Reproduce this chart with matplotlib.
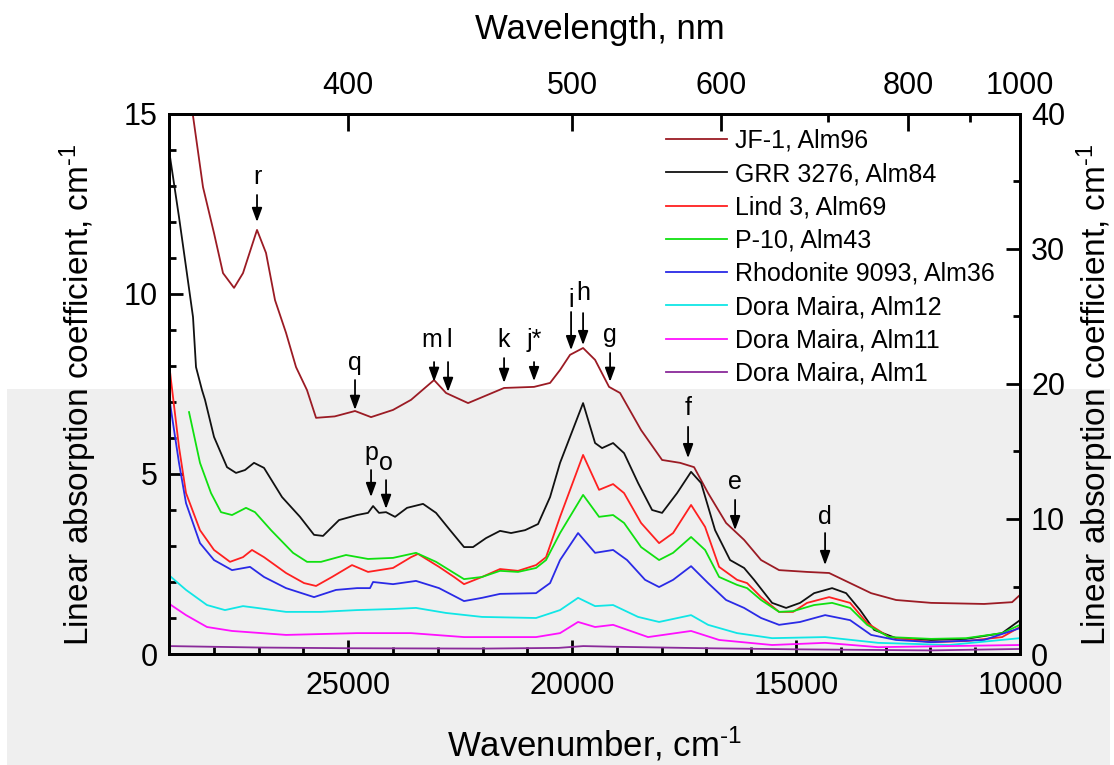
import matplotlib
matplotlib.use('Agg')
import matplotlib.pyplot as plt
from matplotlib.patches import Rectangle
from matplotlib.ticker import MultipleLocator, FixedLocator, NullFormatter

plt.rcParams['font.family'] = ['Liberation Sans', 'DejaVu Sans']
plt.rcParams['mathtext.fontset'] = 'custom'
plt.rcParams['mathtext.rm'] = 'Liberation Sans'
plt.rcParams['mathtext.it'] = 'Liberation Sans:italic'

# spectra: wavenumber (cm-1) and linear absorption coefficient (cm-1, left scale)
jf1_x = [28470, 28241, 27995, 27794, 27548, 27348, 27035, 26834, 26633, 26387, 26164,
         25919, 25717, 25300, 24847, 24489, 23998, 23596, 23082, 22814, 22323, 21519,
         20850, 20492, 20269, 20046, 19755, 19487, 19175, 18929, 18460, 17991, 17589,
         17277, 16964, 16562, 16160, 15781, 15379, 14754, 14262, 13793, 13324, 12766,
         11984, 10801, 10176, 10000]
jf1_y = [15.0, 12.97, 11.69, 10.58, 10.17, 10.58, 11.78, 11.14, 9.83, 8.92, 7.97,
         7.33, 6.56, 6.6, 6.75, 6.58, 6.78, 7.06, 7.61, 7.25, 6.97, 7.39,
         7.42, 7.53, 7.89, 8.31, 8.5, 8.17, 7.42, 7.25, 6.22, 5.39, 5.31,
         5.19, 4.47, 3.64, 3.17, 2.61, 2.33, 2.28, 2.25, 1.97, 1.69, 1.5,
         1.42, 1.39, 1.44, 1.64]

grr_x = [29000, 28777, 28620, 28464, 28397, 28263, 28196, 27995, 27705, 27504, 27303,
         27102, 26879, 26477, 26075, 25762, 25561, 25204, 24802, 24556, 24444, 24311,
         24154, 23953, 23685, 23328, 23038, 22725, 22413, 22212, 21921, 21609, 21363,
         21050, 20760, 20492, 20269, 19755, 19487, 19331, 19085, 18840, 18527, 18214,
         17991, 17656, 17344, 17120, 16808, 16473, 16160, 15937, 15535, 15222, 14910,
         14597, 14195, 13882, 13570, 13257, 12766, 11984, 11203, 10399, 10000]
grr_y = [14.0, 12.14, 10.75, 9.36, 7.97, 7.33, 7.06, 6.03, 5.19, 5.03, 5.11,
         5.31, 5.17, 4.36, 3.81, 3.31, 3.28, 3.72, 3.86, 3.92, 4.11, 3.92,
         3.94, 3.81, 4.06, 4.17, 3.92, 3.44, 2.97, 2.97, 3.22, 3.42, 3.36,
         3.44, 3.61, 4.36, 5.31, 6.97, 5.86, 5.72, 5.86, 5.58, 4.75, 4.0,
         3.92, 4.47, 5.06, 4.75, 3.44, 2.61, 2.39, 2.06, 1.42, 1.28, 1.42,
         1.69, 1.83, 1.69, 1.22, 0.67, 0.44, 0.39, 0.42, 0.58, 0.94]

lind_x = [29000, 28955, 28777, 28620, 28308, 27995, 27638, 27348, 27147, 26879, 26387,
          25985, 25717, 25360, 24914, 24556, 23998, 23596, 23440, 22971, 22636, 22413,
          22011, 21609, 21207, 20805, 20582, 20269, 19755, 19398, 19085, 18840, 18460,
          18058, 17745, 17344, 17031, 16718, 16317, 16093, 15781, 15379, 15066, 14754,
          14262, 13793, 13413, 12922, 11984, 11203, 10399, 10000]
lind_y = [8.1, 7.6, 5.75, 4.47, 3.44, 2.89, 2.56, 2.69, 2.89, 2.69, 2.25,
          1.97, 1.89, 2.14, 2.47, 2.28, 2.39, 2.69, 2.78, 2.42, 2.14, 1.94,
          2.14, 2.36, 2.31, 2.47, 2.69, 3.81, 5.53, 4.56, 4.72, 4.47, 3.64,
          3.08, 3.36, 4.14, 3.53, 2.42, 2.06, 1.97, 1.58, 1.17, 1.17, 1.42,
          1.58, 1.42, 0.86, 0.47, 0.33, 0.36, 0.47, 0.75]

p10_x = [28553, 28308, 28062, 27839, 27593, 27281, 27080, 26722, 26231, 25918, 25606,
         25048, 24556, 23998, 23485, 23038, 22636, 22413, 22011, 21609, 21207, 20805,
         20582, 20269, 19755, 19398, 19085, 18840, 18460, 18058, 17745, 17344, 17031,
         16718, 16317, 16093, 15781, 15379, 15066, 14597, 14195, 13793, 13413, 12922,
         11984, 11203, 10399, 10000]
p10_y = [6.72, 5.31, 4.47, 3.94, 3.86, 4.06, 3.94, 3.44, 2.81, 2.56, 2.56,
         2.75, 2.64, 2.67, 2.81, 2.56, 2.25, 2.08, 2.14, 2.31, 2.28, 2.39,
         2.61, 3.36, 4.42, 3.81, 3.86, 3.64, 2.97, 2.61, 2.81, 3.25, 2.89,
         2.14, 1.92, 1.83, 1.5, 1.17, 1.19, 1.36, 1.42, 1.28, 0.81, 0.47,
         0.42, 0.44, 0.58, 0.81]

rhod_x = [29000, 28955, 28777, 28620, 28308, 27995, 27593, 27191, 26879, 26387, 25762,
          25271, 24802, 24512, 24444, 23998, 23485, 22971, 22413, 22011, 21609, 20805,
          20492, 20269, 19867, 19487, 19085, 18773, 18371, 18058, 17745, 17344, 16964,
          16562, 16160, 15781, 15379, 14910, 14351, 13793, 13324, 12766, 11984, 10801,
          10000]
rhod_y = [7.2, 6.78, 5.31, 4.19, 3.08, 2.61, 2.33, 2.42, 2.14, 1.83, 1.58,
          1.78, 1.83, 1.83, 2.0, 1.94, 2.03, 1.83, 1.47, 1.56, 1.67, 1.69,
          1.97, 2.61, 3.36, 2.81, 2.89, 2.61, 2.06, 1.86, 2.06, 2.44, 1.97,
          1.5, 1.28, 1.0, 0.81, 0.89, 1.08, 0.94, 0.53, 0.39, 0.33, 0.39,
          0.72]

dm12_x = [29000, 28955, 28620, 28152, 27750, 27348, 27035, 26387, 25606, 24802, 23998,
          23485, 22814, 22011, 20805, 20269, 19867, 19487, 19085, 18527, 18058, 17344,
          16964, 16317, 15535, 14351, 13168, 11582, 10000]
dm12_y = [2.2, 2.14, 1.78, 1.36, 1.22, 1.33, 1.28, 1.17, 1.17, 1.22, 1.25,
          1.28, 1.14, 1.03, 1.0, 1.22, 1.56, 1.33, 1.36, 1.03, 0.89, 1.08,
          0.81, 0.58, 0.44, 0.47, 0.31, 0.25, 0.44]

dm11_x = [29000, 28955, 28620, 28152, 27593, 26387, 24802, 23596, 22413, 20805, 20269,
          19867, 19487, 19085, 18304, 17344, 16718, 15535, 14351, 13168, 10000]
dm11_y = [1.42, 1.36, 1.08, 0.75, 0.64, 0.53, 0.58, 0.58, 0.47, 0.47, 0.58,
          0.89, 0.75, 0.81, 0.47, 0.64, 0.39, 0.25, 0.31, 0.19, 0.25]

dm1_x = [29000, 27000, 25000, 22000, 20300, 19750, 19000, 17000, 15000, 12000, 10000]
dm1_y = [0.22, 0.18, 0.16, 0.15, 0.17, 0.22, 0.2, 0.16, 0.13, 0.1, 0.14]

labels = ['JF-1, Alm96', 'GRR 3276, Alm84', 'Lind 3, Alm69', 'P-10, Alm43',
          'Rhodonite 9093, Alm36', 'Dora Maira, Alm12', 'Dora Maira, Alm11',
          'Dora Maira, Alm1']
colors = ['#9b1b24', '#111111', '#ff2020', '#10e010', '#2a2ae6', '#10e6e6',
          '#ff10ff', '#8a2a9a']

# band markers: letter, wavenumber, label y, arrow tail y, arrow tip y
band_names = ['r', 'q', 'm', 'l', 'k', 'j*', 'i', 'h', 'g', 'f', 'e', 'd', 'p', 'o']
band_x = [27035, 24847, 23130, 22740, 21519, 20850, 20023, 19755, 19152, 17411,
          16361, 14352, 24489, 24154]
band_lab = [13.25, 8.08, 8.72, 8.72, 8.72, 8.72, 9.83, 10.03, 8.86, 6.83, 4.78,
            3.81, 5.58, 5.31]
band_tail = [12.75, 7.61, 8.11, 8.11, 8.22, 8.11, 9.5, 9.47, 8.36, 6.31, 4.28,
             3.36, 5.11, 4.83]
band_tip = [12.0, 6.78, 7.56, 7.28, 7.53, 7.58, 8.44, 8.58, 7.56, 5.44, 3.44,
            2.47, 4.36, 4.03]
band_arrow_x = [27035, 24847, 23082, 22770, 21519, 20850, 20023, 19755, 19152, 17411,
                16361, 14352, 24489, 24154]

top_nm = [400, 500, 600, 800, 1000]
top_nm_minor = [700, 900]

unit = 'cm$^{\u2010 1}$'

fig = plt.figure(figsize=(11.14, 7.65), dpi=100)
fig.patch.set_facecolor('white')
fig.add_artist(Rectangle((7 / 1114, 0), 1103 / 1114, (765 - 389) / 765,
                         transform=fig.transFigure, facecolor='#efefef',
                         edgecolor='none', zorder=-5))

ax = fig.add_axes([169 / 1114, 111 / 765, 851 / 1114, 540 / 765])
ax.set_facecolor('none')

series = [(jf1_x, jf1_y), (grr_x, grr_y), (lind_x, lind_y), (p10_x, p10_y),
          (rhod_x, rhod_y), (dm12_x, dm12_y), (dm11_x, dm11_y), (dm1_x, dm1_y)]
for (xs, ys), lab, c in zip(series, labels, colors):
    ax.plot(xs, ys, color=c, lw=1.3, label=lab)

ax.set_xlim(29000, 10000)
ax.set_ylim(0, 15)
ax.xaxis.set_major_locator(FixedLocator([25000, 20000, 15000, 10000]))
ax.xaxis.set_minor_locator(MultipleLocator(1000))
ax.yaxis.set_major_locator(MultipleLocator(5))
ax.yaxis.set_minor_locator(MultipleLocator(1))
ax.tick_params(which='both', direction='in', width=2, labelsize=22)
ax.tick_params(which='major', length=10)
ax.tick_params(which='minor', length=5)
ax.tick_params(axis='x', pad=12)
ax.tick_params(axis='y', pad=8)
for s in ax.spines.values():
    s.set_linewidth(2)

for name, bx, ax_x, ly, ty, tp in zip(band_names, band_x, band_arrow_x,
                                      band_lab, band_tail, band_tip):
    ax.annotate('', xy=(ax_x, tp), xytext=(ax_x, ty),
                arrowprops=dict(arrowstyle='-|>,head_length=0.6,head_width=0.22',
                                color='black', lw=1.3, shrinkA=0, shrinkB=0,
                                mutation_scale=14))
    ax.text(bx, ly, name, ha='center', va='center', fontsize=18)

ax.legend(loc='upper left', bbox_to_anchor=((666 - 169) / 851, (654 - 129) / 540),
          frameon=False, fontsize=18, handlelength=2.45, handletextpad=0.3,
          labelspacing=0.37, borderpad=0, borderaxespad=0)

# right axis, same data on a 0-40 scale
ax2 = ax.twinx()
ax2.set_ylim(0, 40)
ax2.yaxis.set_major_locator(MultipleLocator(10))
ax2.yaxis.set_minor_locator(MultipleLocator(5))
ax2.tick_params(which='both', direction='in', width=2, labelsize=22, pad=8)
ax2.tick_params(which='major', length=10)
ax2.tick_params(which='minor', length=5)
for s in ax2.spines.values():
    s.set_linewidth(2)

# top axis: wavelength in nm
ax3 = ax.twiny()
ax3.set_xlim(ax.get_xlim())
ax3.xaxis.set_major_locator(FixedLocator([1e7 / v for v in top_nm]))
ax3.set_xticklabels([str(v) for v in top_nm])
ax3.xaxis.set_minor_locator(FixedLocator([1e7 / v for v in top_nm_minor]))
ax3.xaxis.set_minor_formatter(NullFormatter())
ax3.tick_params(which='both', direction='in', width=2, labelsize=22, pad=9)
ax3.tick_params(which='major', length=12)
ax3.tick_params(which='minor', length=6)
for s in ax3.spines.values():
    s.set_linewidth(2)

fig.text(595 / 1114, 1 - 744 / 765, 'Wavenumber, ' + unit, ha='center', va='center',
         fontsize=25)
fig.text(600 / 1114, 1 - 30 / 765, 'Wavelength, nm', ha='center', va='center',
         fontsize=25)
fig.text(78 / 1114, 1 - 395 / 765, 'Linear absorption coefficient, ' + unit,
         ha='center', va='center', rotation=90, fontsize=24)
fig.text(1095 / 1114, 1 - 395 / 765, 'Linear absorption coefficient, ' + unit,
         ha='center', va='center', rotation=90, fontsize=24)

fig.savefig('out.png', dpi=100)
